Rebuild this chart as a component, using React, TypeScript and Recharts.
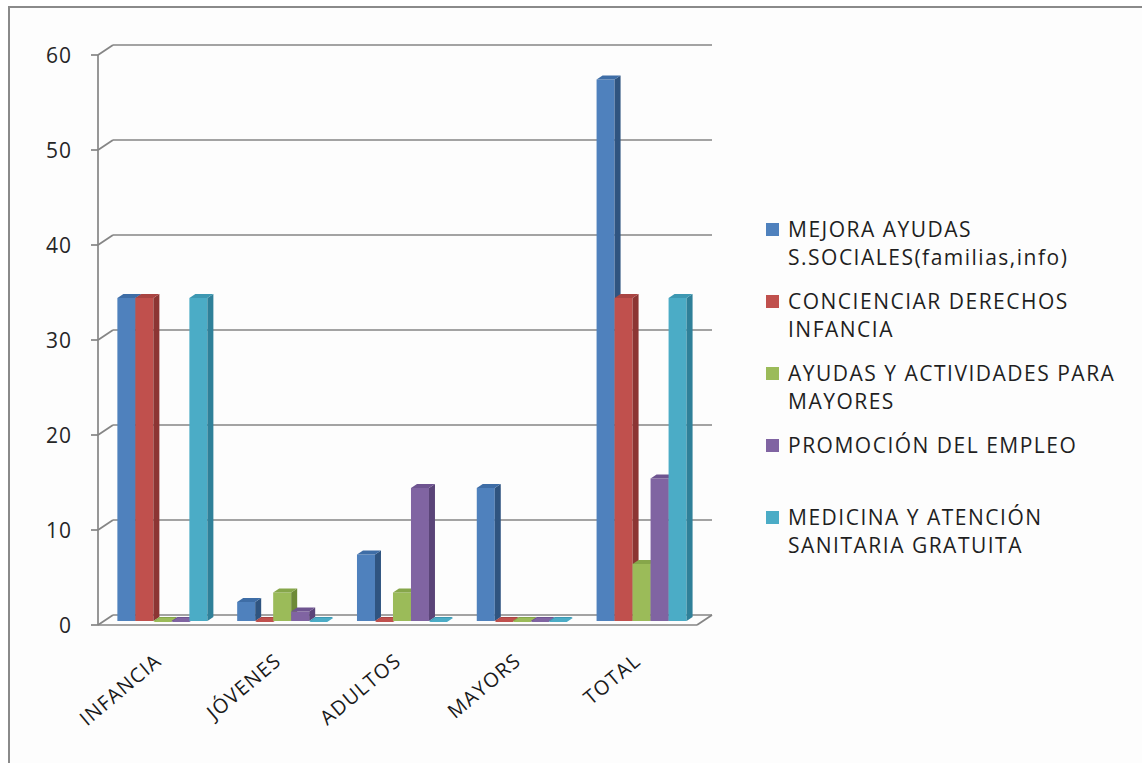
import React from 'react';
import { BarChart, Bar, XAxis, YAxis, CartesianGrid, Legend } from 'recharts';

const categories = ['INFANCIA', 'JÓVENES', 'ADULTOS', 'MAYORS', 'TOTAL'];
const mejoraAyudas = [34, 2, 7, 14, 57];
const concienciarDerechos = [34, 0, 0, 0, 34];
const ayudasMayores = [0, 3, 3, 0, 6];
const promocionEmpleo = [0, 1, 14, 0, 15];
const medicinaAtencion = [34, 0, 0, 0, 34];
const yTicks = [0, 10, 20, 30, 40, 50, 60];
const boundaryTicks = [0, 1, 2, 3, 4, 5];

const seriesNames = [
  'MEJORA AYUDAS S.SOCIALES(familias,info)',
  'CONCIENCIAR DERECHOS INFANCIA',
  'AYUDAS Y ACTIVIDADES PARA MAYORES',
  'PROMOCIÓN DEL EMPLEO',
  'MEDICINA Y ATENCIÓN SANITARIA GRATUITA',
];
const seriesKeys = ['s0', 's1', 's2', 's3', 's4'];
const seriesValues = [mejoraAyudas, concienciarDerechos, ayudasMayores, promocionEmpleo, medicinaAtencion];
const frontColors = ['#4F81BD', '#C0504D', '#9BBB59', '#8064A2', '#4BACC6'];
const sideColors = ['#2F5480', '#8C3533', '#6E8A38', '#5A4478', '#2F8099'];
const topColors = ['#3E6DA6', '#A94442', '#86A64A', '#6E5490', '#3D98B2'];

const data = categories.map((c, i) => {
  const row: any = { name: c };
  seriesKeys.forEach((k, j) => {
    row[k] = seriesValues[j][i];
  });
  return row;
});

const GRID = '#858585';
const DX = 15;
const DY = -10;
const FONT = '"Open Sans", sans-serif';

const makeShape = (idx: number) => (props: any) => {
  const { x, y, width, height } = props;
  if (x == null || y == null) return null;
  const ox = 5;
  const oy = -4;
  const d = 6;
  const dz = 4;
  const X = x + ox;
  const Y = y + oy;
  const w = width;
  const h = Math.max(0, height);
  return (
    <g>
      {h > 0 && <rect x={X} y={Y} width={w} height={h} fill={frontColors[idx]} />}
      <polygon
        points={`${X + w},${Y + h} ${X + w + d},${Y + h - dz} ${X + w + d},${Y - dz} ${X + w},${Y}`}
        fill={sideColors[idx]}
      />
      <polygon
        points={`${X},${Y} ${X + d},${Y - dz} ${X + w + d},${Y - dz} ${X + w},${Y}`}
        fill={topColors[idx]}
      />
      {h === 0 && (
        <polygon
          points={`${X},${Y + 1} ${X + w},${Y + 1} ${X + w + d},${Y + 1 - dz} ${X + d},${Y + 1 - dz}`}
          fill={frontColors[idx]}
        />
      )}
    </g>
  );
};

const gridLine = (props: any) => {
  const { x1, x2, y1, index } = props;
  const isBottom = index === 0;
  return (
    <g key={`g-${y1}`}>
      <line x1={x1} y1={y1} x2={x1 + DX} y2={y1 + DY} stroke={GRID} strokeWidth={1.7} />
      <line x1={x1 + DX} y1={y1 + DY} x2={x2 + DX} y2={y1 + DY} stroke={GRID} strokeWidth={1.7} />
      {isBottom && <line x1={x2} y1={y1} x2={x2 + DX} y2={y1 + DY} stroke={GRID} strokeWidth={1.7} />}
    </g>
  );
};

const YTick = (props: any) => {
  const { x, y, payload } = props;
  return (
    <text x={x} y={y} dy="0.36em" textAnchor="end" fill="#262626" fontSize={21} fontFamily={FONT} letterSpacing={1}>
      {payload.value}
    </text>
  );
};

const XTick = (props: any) => {
  const { x, y, payload } = props;
  return (
    <g transform={`translate(${x + 5},${y + 38}) rotate(-40)`}>
      <text x={0} y={0} textAnchor="end" fill="#1a1a1a" fontSize={20} fontFamily={FONT} letterSpacing={1.2}>
        {payload.value}
      </text>
    </g>
  );
};

const renderLegend = (props: any) => {
  const { payload } = props;
  return (
    <div style={{ fontFamily: FONT, fontSize: 21, letterSpacing: 1.5, color: '#1f1f1f', textAlign: 'left' }}>
      {(payload || []).map((p: any, i: number) => (
        <div key={i} style={{ position: 'relative', height: 72, lineHeight: '28px' }}>
          <div
            style={{
              position: 'absolute',
              left: 0,
              top: 8,
              width: 13,
              height: 13,
              background: p.color,
            }}
          />
          <div style={{ marginLeft: 22, width: 348 }}>{p.value}</div>
        </div>
      ))}
    </div>
  );
};

export default function App() {
  return (
    <div style={{ position: 'absolute', left: 0, top: 0, width: 1142, height: 763, background: '#ffffff', overflow: 'hidden' }}>
      <div
        style={{
          position: 'absolute',
          left: 8,
          top: 6,
          width: 1150,
          height: 780,
          border: '2px solid #8a8a8a',
          background: '#fdfdfd',
        }}
      />
      <div style={{ position: 'absolute', left: 0, top: 0 }}>
        <BarChart
          width={1142}
          height={763}
          data={data}
          margin={{ top: 55, right: 445, bottom: 38, left: 0 }}
          barCategoryGap="12%"
          barGap={0}
        >
          <CartesianGrid horizontal={gridLine} vertical={false} />
          <XAxis
            xAxisId="b"
            type="number"
            domain={[0, 5]}
            ticks={boundaryTicks}
            height={0}
            axisLine={false}
            tick={false}
            tickSize={8}
            tickLine={{ stroke: GRID, strokeWidth: 1.7 }}
            allowDataOverflow
          />
          <XAxis
            xAxisId="cat"
            dataKey="name"
            height={100}
            axisLine={{ stroke: GRID, strokeWidth: 1.7 }}
            tickLine={false}
            tickSize={0}
            tickMargin={0}
            tick={<XTick />}
            interval={0}
          />
          <YAxis
            width={98}
            domain={[0, 60]}
            ticks={yTicks}
            axisLine={{ stroke: GRID, strokeWidth: 1.7 }}
            tickLine={{ stroke: GRID, strokeWidth: 1.7 }}
            tickSize={7}
            tickMargin={19}
            tick={<YTick />}
          />
          <Legend
            content={renderLegend}
            layout="vertical"
            align="center"
            verticalAlign="middle"
            itemSorter="dataKey"
            wrapperStyle={{ position: 'absolute', left: 766, top: 215, width: 376 }}
          />
          {seriesKeys.map((k, i) => (
            <Bar
              key={k}
              xAxisId="cat"
              dataKey={k}
              name={seriesNames[i]}
              fill={frontColors[i]}
              isAnimationActive={false}
              shape={makeShape(i)}
            />
          ))}
        </BarChart>
      </div>
    </div>
  );
}
